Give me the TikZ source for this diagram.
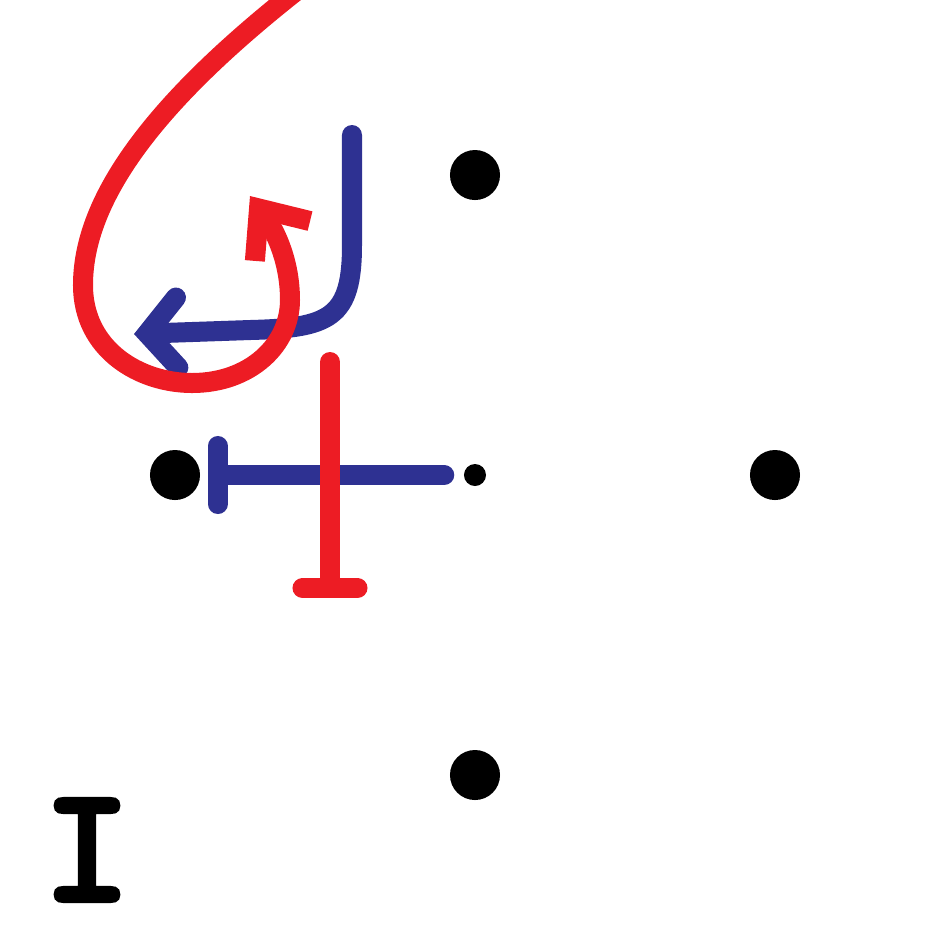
\documentclass[tikz,border=0pt]{standalone}
\usepackage{fontspec}
\newfontfamily\labelfont{lmmono10-regular.otf}[RawFeature={embolden=4.5}]
\usepackage{xcolor}
\definecolor{knotred}{HTML}{ED1C24}
\definecolor{knotblue}{HTML}{2E3192}
\usepackage{tikz}
\usetikzlibrary{arrows.meta}

\begin{document}
\begin{tikzpicture}[x=0.01cm, y=-0.01cm,
      dot/.style={circle, fill=black, inner sep=0pt, minimum size=0.5cm},
      smalldot/.style={circle, fill=black, inner sep=0pt, minimum size=0.22cm},
      blueline/.style={draw=knotblue, line width=0.2cm, line cap=round},
      redline/.style={draw=knotred, line width=0.2cm, line cap=round}
    ]
    \useasboundingbox (0,0) rectangle (950,950);
    \node[dot] (n) at (475,175) {};
    \node[dot] (w) at (175,475) {};
    \node[dot] (e) at (775,475) {};
    \node[dot] (s) at (475,775) {};
    \node[smalldot] (c) at (475,475) {};
    \node[font=\labelfont\fontsize{46}{46}\selectfont, inner sep=0pt] (lbl) at (87,850) {I};

    \coordinate (bstart) at (352,135);
    \coordinate (btip) at (134,334);
    \coordinate (rtop) at (330,362);
    \coordinate (rbot) at (330,598);
    \coordinate (rstart) at (300,-12);
    \coordinate (rtip) at (250,196);

    \draw[blueline, {Bar[width=0.58cm, line cap=round]}-, shorten <=0.07cm, shorten >=0.19cm] (w) -- (c);
    \draw[blueline, -{Straight Barb[length=0.3cm, width=0.7cm, line cap=round, line join=miter]}] (bstart) -- (352,245) .. controls (352,318) and (330,328) .. (250,330) -- (btip);
    \draw[redline, -{Bar[width=0.55cm, line cap=round]}] (rtop) -- (rbot);
    \draw[redline, -{Straight Barb[length=0.4cm, width=0.68cm, line cap=butt, line join=miter]}] (rstart) .. controls (170,90) and (83,190) .. (83,285) .. controls (83,350) and (140,383) .. (192,383) .. controls (250,383) and (290,345) .. (290,300) .. controls (290,262) and (276,232) .. (rtip);
  \end{tikzpicture}
\end{document}
